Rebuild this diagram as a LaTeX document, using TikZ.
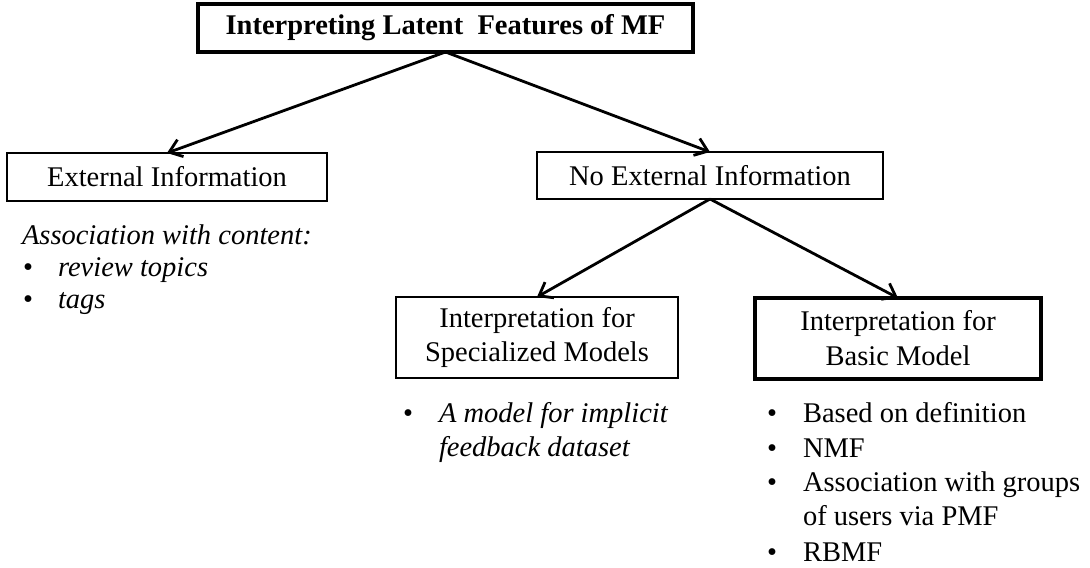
\documentclass[tikz,border=0pt]{standalone}
\usepackage{fontspec}
\setmainfont{Liberation Serif}
\usetikzlibrary{arrows.meta}
\begin{document}
\begin{tikzpicture}[x=0.5pt,y=-0.5pt,
  every node/.style={font=\fontsize{14.25}{17.4}\selectfont, inner sep=0pt, outer sep=0pt},
  thinbox/.style={draw, line width=0.8pt, align=center},
  thickbox/.style={draw, line width=1.6pt, align=center},
  arr/.style={line width=1.4pt, -{Straight Barb[length=6pt,width=9pt,line width=1.4pt]}},
  bul/.style={anchor=base},
  itm/.style={anchor=base west}
]
\useasboundingbox (0,0) rectangle (1090,567);

% boxes
\node[thickbox, minimum width=247.5pt, minimum height=24pt] (top) at (445.5,28)
  {\bfseries Interpreting Latent\ \ Features of MF};
\node[thinbox, minimum width=160pt, minimum height=24pt] (ext) at (167,177)
  {External Information};
\node[thinbox, minimum width=173pt, minimum height=23.5pt] (noext) at (710,175.5)
  {No External Information};
\node[thinbox, minimum width=141pt, minimum height=40.5pt] (spec) at (537,337.5)
  {Interpretation for\\Specialized Models};
\node[thickbox, minimum width=143pt, minimum height=40.5pt] (basic) at (898,338.5)
  {Interpretation for\\Basic Model};

% connectors
\draw[arr] (top.south) -- (ext.north);
\draw[arr] (top.south) -- (noext.north);
\draw[arr] (noext.south) -- (spec.north);
\draw[arr] (noext.south) -- (basic.north);

% external information list
\node[itm] (e0) at (22,244) {\itshape Association with content:};
\node[bul] (eb1) at (28,276) {•};
\node[itm] (e1) at (58,276) {\itshape review topics};
\node[bul] (eb2) at (28,308) {•};
\node[itm] (e2) at (58,308) {\itshape tags};

% specialized models list
\node[bul] (sb1) at (408,422) {•};
\node[itm] (s1) at (439,422) {\itshape A model for implicit};
\node[itm] (s2) at (439,456) {\itshape feedback dataset};

% basic model list
\node[bul] (bb1) at (772,422) {•};
\node[itm] (b1) at (803,422) {Based on definition};
\node[bul] (bb2) at (772,457) {•};
\node[itm] (b2) at (803,457) {NMF};
\node[bul] (bb3) at (772,491) {•};
\node[itm] (b3) at (803,491) {Association with groups};
\node[itm] (b4) at (803,525) {of users via PMF};
\node[bul] (bb5) at (772,561) {•};
\node[itm] (b5) at (803,561) {RBMF};
\end{tikzpicture}
\end{document}
